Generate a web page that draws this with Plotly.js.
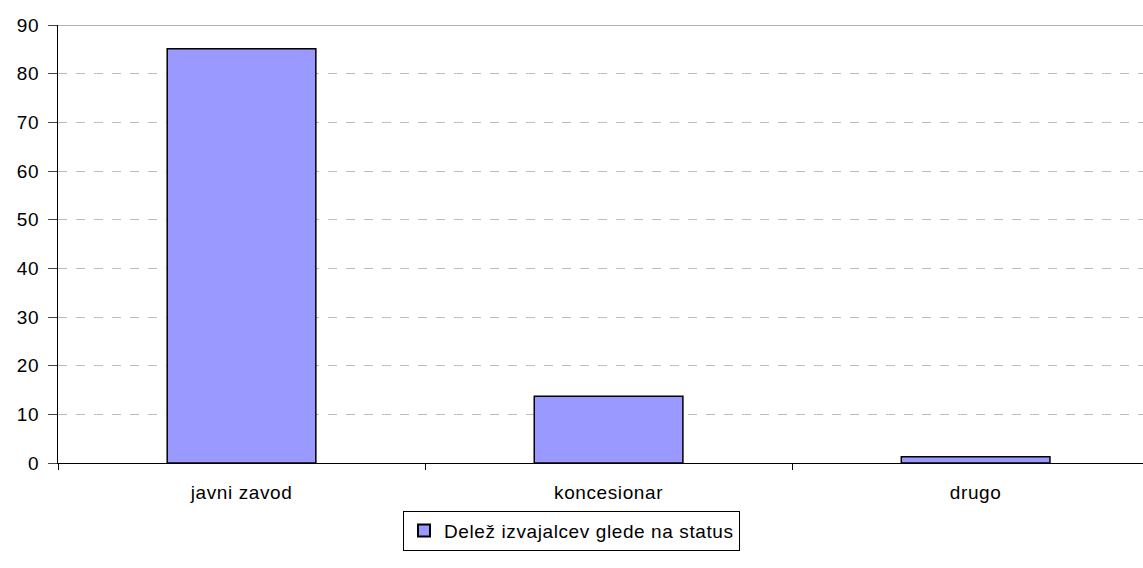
<!DOCTYPE html>
<html><head><meta charset="utf-8">
<script src="https://cdn.plot.ly/plotly-3.0.1.min.js"></script>
<style>body{margin:0;background:#fff}#c{width:1143px;height:568px}
.xtick text, .ytick text, .legendtext {letter-spacing: 0.6px;}
</style>
</head><body><div id="c"></div>
<script>
var categories = ["javni zavod", "koncesionar", "drugo"];
var values = [85.1, 13.7, 1.3];
var seriesName = "Delež izvajalcev glede na status";
var yTicks = [0, 10, 20, 30, 40, 50, 60, 70, 80, 90];

var trace = {
  type: "bar", x: categories, y: values, name: seriesName,
  marker: {color: "#9999ff", line: {color: "#000", width: 1.5}},
  width: 0.405, showlegend: true
};
var layout = {
  width: 1143, height: 568,
  margin: {l: 58, r: 0, t: 25, b: 105},
  paper_bgcolor: "#fff", plot_bgcolor: "#fff",
  font: {family: "Liberation Sans, Arial, sans-serif", size: 19, color: "#000"},
  showlegend: true,
  xaxis: {
    range: [-0.5, 2.456], showline: true, linecolor: "#000", linewidth: 1,
    ticks: "outside", tickson: "boundaries", ticklen: 6, tickcolor: "#000",
    showgrid: false, fixedrange: true, ticklabelstandoff: 12
  },
  yaxis: {
    range: [0, 90], tickvals: yTicks, showline: true, linecolor: "#000", linewidth: 1,
    ticks: "outside", ticklen: 9, tickcolor: "#444",
    showgrid: true, gridcolor: "#bdbdbd", griddash: "dash", gridwidth: 1,
    zeroline: false, fixedrange: true, ticklabelstandoff: 5
  },
  shapes: [{type: "line", xref: "paper", yref: "y", x0: 0, x1: 1, y0: 90, y1: 90, line: {color: "#999", width: 1.5}}],
  legend: {
    orientation: "h", x: 0.4733, xanchor: "center", y: -0.109, yanchor: "top",
    bordercolor: "#000", borderwidth: 1, font: {size: 19}, itemwidth: 30,
    itemsizing: "constant"
  },
  bargap: 0.6
};
Plotly.newPlot("c", [trace], layout, {displayModeBar: false, staticPlot: true});
</script></body></html>
